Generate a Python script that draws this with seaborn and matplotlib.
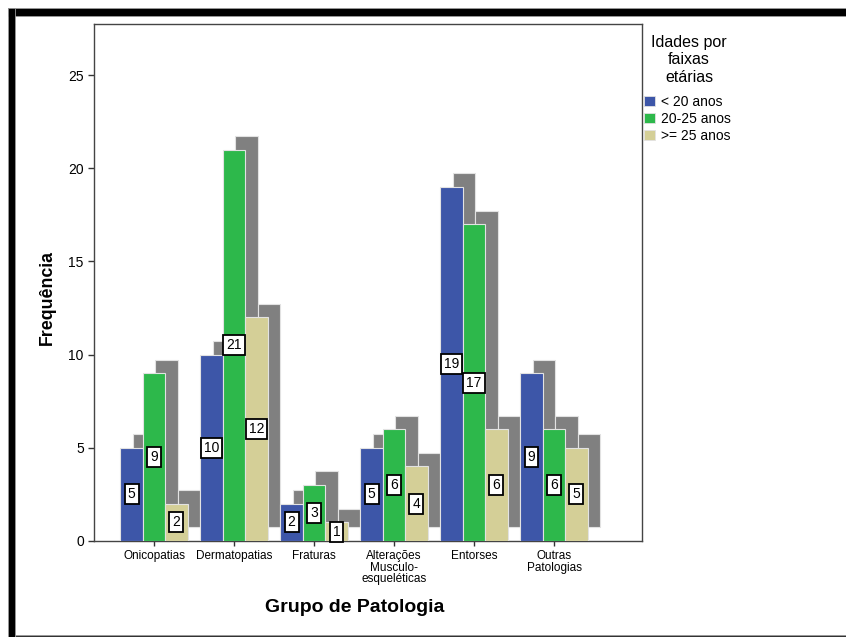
import matplotlib
matplotlib.use("Agg")
import matplotlib.pyplot as plt
from matplotlib.patches import Rectangle, Patch
import seaborn as sns
import pandas as pd

# Frequencies per pathology group and age band
grupos = ["Onicopatias", "Dermatopatias", "Fraturas",
          "Alterações\nMusculo-\nesqueléticas", "Entorses", "Outras\nPatologias"]
faixas = ["< 20 anos", "20-25 anos", ">= 25 anos"]
menos_20 = [5, 10, 2, 5, 19, 9]
entre_20_25 = [9, 21, 3, 6, 17, 6]
mais_25 = [2, 12, 1, 4, 6, 5]
series = [menos_20, entre_20_25, mais_25]

cores = ["#3d56a8", "#2db84b", "#d4cf97"]
sombra = "#808080"
borda = "#e2e2e2"

rows = []
for faixa, vals in zip(faixas, series):
    for g, v in zip(grupos, vals):
        rows.append({"grupo": g, "faixa": faixa, "freq": v})
df = pd.DataFrame(rows)

sns.set_theme(style="ticks")
plt.rcParams["font.family"] = ["Liberation Sans", "DejaVu Sans"]
for k in ("text.color", "axes.labelcolor", "xtick.labelcolor", "ytick.labelcolor"):
    plt.rcParams[k] = "black"

fig = plt.figure(figsize=(8.46, 6.37), dpi=100)
ax = fig.add_axes([94 / 846, 1 - 541 / 637, (642 - 94) / 846, (541 - 24) / 637])

n = len(faixas)
bw = 0.28
dx, dy = 0.155, 0.73

# Drop shadows behind every bar
for j, vals in enumerate(series):
    for i, v in enumerate(vals):
        ax.bar(i + (j - (n - 1) / 2) * bw + dx, v, width=bw, bottom=dy,
               color=sombra, edgecolor=borda, linewidth=0.8, zorder=1)

sns.barplot(data=df, x="grupo", y="freq", hue="faixa", order=grupos,
            hue_order=faixas, palette=cores, saturation=1, width=bw * n,
            errorbar=None, edgecolor=borda, linewidth=0.8, legend=False,
            ax=ax, zorder=3)

# Value labels centred in each bar
for j, vals in enumerate(series):
    for i, v in enumerate(vals):
        ax.text(i + (j - (n - 1) / 2) * bw, v / 2, str(v), ha="center", va="center",
                fontsize=10, color="black", zorder=5, clip_on=False,
                bbox=dict(boxstyle="square,pad=0.22", fc="white", ec="black", lw=1.3))

ax.set_xlim(-0.75, 6.1)
ax.set_ylim(0, 27.74)
ax.set_yticks([0, 5, 10, 15, 20, 25])
ax.set_xticks(range(len(grupos)))
ax.set_xticklabels(grupos, fontsize=8.5, linespacing=0.93)
ax.tick_params(axis="y", labelsize=10, length=4.3, width=1, color="#333333", pad=3)
ax.tick_params(axis="x", length=3.6, width=1, color="#333333", pad=3)
for s in ax.spines.values():
    s.set_visible(True)
    s.set_color("#444444")
    s.set_linewidth(1.0)

ax.set_xlabel("")
ax.set_ylabel("")
fig.text(47 / 846, 1 - 297 / 637, "Frequência", rotation=90, ha="center", va="center",
         fontsize=12.8, fontweight="bold")
fig.text(355 / 846, 1 - 607 / 637, "Grupo de Patologia", ha="center", va="center",
         fontsize=14, fontweight="bold")

# Legend: centred title above colour keys
fig.text(689 / 846, 1 - 60 / 637, "Idades por\nfaixas\netárias", ha="center",
         va="center", multialignment="center", fontsize=11.5, linespacing=1.2)
handles = [Patch(facecolor=c, edgecolor=borda, linewidth=0.6) for c in cores]
fig.legend(handles, faixas, loc="upper left", bbox_to_anchor=(644 / 846, 1 - 95 / 637),
           frameon=False, fontsize=10, handlelength=0.78, handleheight=0.72,
           handletextpad=0.45, labelspacing=0.22, borderpad=0, borderaxespad=0)

# Screen frame around the figure
W, H = 846, 637
def frame(x0, y0, w, h, color):
    fig.patches.append(Rectangle((x0 / W, 1 - (y0 + h) / H), w / W, h / H,
                                 transform=fig.transFigure, facecolor=color,
                                 edgecolor="#9a9a9a", linewidth=0.6, zorder=10))
frame(8, 8, 838, 8, "black")
frame(8, 8, 7, 629, "black")
frame(15, 634.5, 831, 2.5, "#333333")

fig.savefig("out.png", dpi=100)
